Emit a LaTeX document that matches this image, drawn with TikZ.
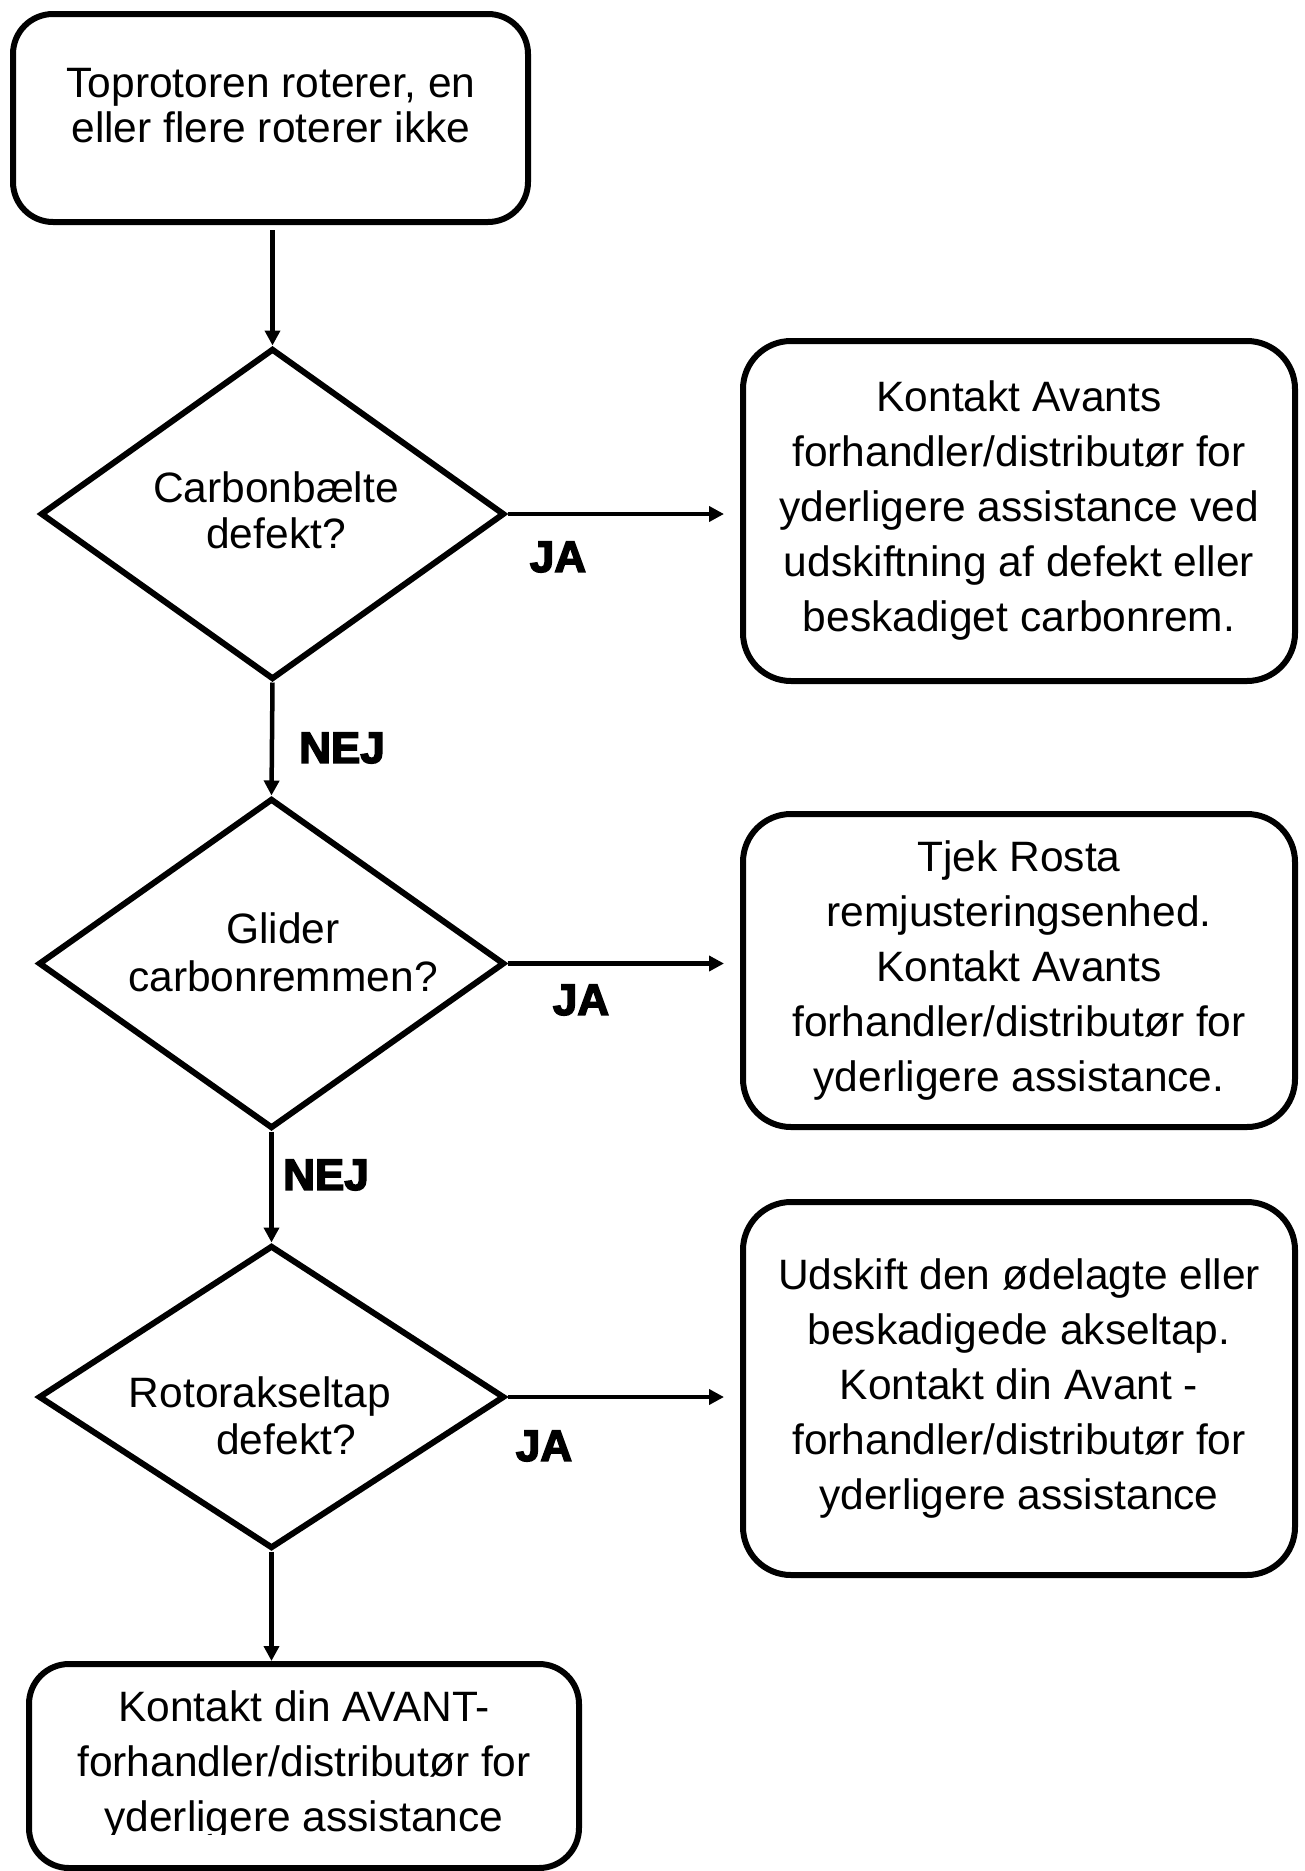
\documentclass[tikz,border=0pt]{standalone}
\usepackage{fontspec}
\setmainfont{Liberation Sans}
\newfontfamily\heavyfont[BoldFeatures={FakeBold=3.5}]{Liberation Sans}
\usetikzlibrary{shapes.geometric,arrows.meta}
\begin{document}
\begin{tikzpicture}[x=1pt,y=-1pt,
  box/.style={draw, line width=6pt, rounded corners=48pt, inner sep=0pt, align=center,
              font=\fontsize{42.5pt}{55pt}\selectfont},
  dia/.style={draw, diamond, line width=6pt, inner sep=0pt, line join=miter},
  txt/.style={align=center, inner sep=0pt, font=\fontsize{42.5pt}{46pt}\selectfont},
  lab/.style={inner sep=0pt, font=\fontsize{44pt}{44pt}\heavyfont\bfseries},
  arr/.style={line width=4.5pt, -{Triangle[length=15pt,width=15pt]}}
]
\useasboundingbox (0,0) rectangle (1304,1871);

% start box
\node[box, rounded corners=40pt, minimum width=515pt, minimum height=208pt] (top) at (270.5,118) {};
\node[txt, font=\fontsize{42.5pt}{45pt}\selectfont] (toptxt) at (271,106) {Toprotoren roterer, en\\eller flere roterer ikke};

% decisions
\node[dia, minimum width=464pt, minimum height=331pt] (d1) at (272.5,514) {};
\node[txt] (d1txt) at (276,510) {Carbonbælte\\defekt?};
\node[dia, minimum width=466pt, minimum height=330pt] (d2) at (271.5,963.5) {};
\node[txt, font=\fontsize{42.5pt}{48pt}\selectfont] (d2txt) at (283,952) {Glider\\carbonremmen?};
\node[dia, minimum width=466pt, minimum height=303pt] (d3) at (271.5,1397) {};
\node[txt, font=\fontsize{42.5pt}{47pt}\selectfont] (d3txt) at (260,1416) {Rotorakseltap\\\hspace*{52pt}defekt?};

% outcome boxes
\node[box, minimum width=552pt, minimum height=340pt] (r1) at (1019,511)
  {Kontakt Avants\\forhandler/distributør for\\yderligere assistance ved\\udskiftning af defekt eller\\beskadiget carbonrem.};
\node[box, minimum width=552pt, minimum height=313pt] (r2) at (1019,970.5)
  {Tjek Rosta\\remjusteringsenhed.\\Kontakt Avants\\forhandler/distributør for\\yderligere assistance.};
\node[box, minimum width=552pt, minimum height=373pt] (r3) at (1019,1388.5)
  {Udskift den ødelagte eller\\beskadigede akseltap.\\Kontakt din Avant -\\forhandler/distributør for\\yderligere assistance};

% final box
\node[box, rounded corners=40pt, minimum width=550pt, minimum height=204pt] (bot) at (304,1766) {};
\begin{scope}
  \clip (0,0) rectangle (1304,1834);
  \node[txt, font=\fontsize{42.5pt}{55pt}\selectfont] (bottxt) at (304,1765)
    {Kontakt din AVANT-\\forhandler/distributør for\\yderligere assistance};
\end{scope}

% connectors
\draw[arr, shorten <=5pt] (top.south -| d1.north) -- (d1.north);
\draw[arr] (d1.south) -- (d2.north);
\draw[arr] (d2.south) -- (d3.north);
\draw[arr] (d3.south) -- (d3.south |- bot.north);
\draw[arr, shorten >=16pt] (d1.east) -- (d1.east -| r1.west);
\draw[arr, shorten >=16pt] (d2.east) -- (d2.east -| r2.west);
\draw[arr, shorten >=16pt] (d3.east) -- (d3.east -| r3.west);

% labels
\node[lab] (ja1) at (558,557) {JA};
\node[lab] (ja2) at (581,1000) {JA};
\node[lab] (ja3) at (544,1446) {JA};
\node[lab] (nej1) at (342,748) {NEJ};
\node[lab] (nej2) at (326,1175) {NEJ};
\end{tikzpicture}
\end{document}
